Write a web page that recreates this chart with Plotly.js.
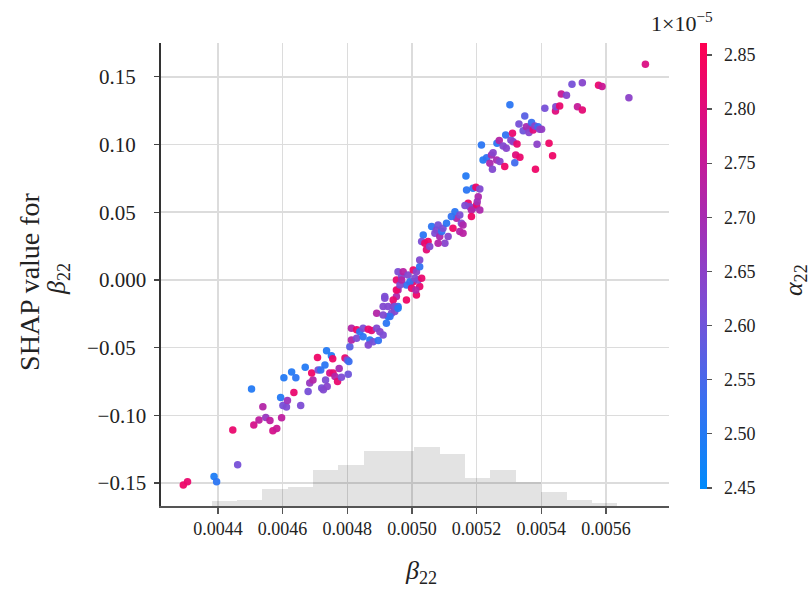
<!DOCTYPE html>
<html>
<head>
<meta charset="utf-8">
<script src="https://cdn.plot.ly/plotly-3.0.1.min.js"></script>
<style>html,body{margin:0;padding:0;background:#fff;}#chart{width:812px;height:590px;}</style>
</head>
<body>
<div id="chart"></div>
<script>
// beta_22 feature values
const beta22 = [
0.004293,0.004306,0.004388,0.004396,0.004461,0.004446,0.004504,0.004511,0.004527,0.004539,
0.004548,0.004561,0.004570,0.004582,0.004597,0.004594,0.004601,0.004612,0.004615,0.004604,
0.004628,0.004641,0.004635,0.004656,0.004670,0.004679,0.004684,0.004694,0.004690,0.004708,
0.004710,0.004718,0.004721,0.004731,0.004736,0.004751,0.004755,0.004746,0.004756,0.004733,
0.004726,0.004738,0.004762,0.004770,0.004775,0.004782,0.004793,0.004800,0.004805,0.004803,
0.004808,0.004813,0.004829,0.004839,0.004849,0.004865,0.004875,0.004891,0.004901,0.004813,
0.004829,0.004849,0.004870,0.004865,0.004880,0.004896,0.004911,0.004891,0.004911,0.004916,
0.004926,0.004937,0.004942,0.004947,0.004957,0.004952,0.004957,0.004983,0.004952,0.004968,
0.004983,0.005004,0.005014,0.005024,0.004916,0.004926,0.004942,0.004947,0.004957,0.004932,
0.004911,0.004921,0.004952,0.004963,0.004968,0.004957,0.004973,0.004988,0.004994,0.004999,
0.005004,0.005009,0.005014,0.005019,0.005024,0.005030,0.005012,0.005024,0.005035,0.005030,
0.005040,0.005050,0.005045,0.005055,0.005061,0.005071,0.005076,0.005081,0.005086,0.005092,
0.005096,0.005107,0.005112,0.005102,0.005081,0.005127,0.005138,0.005133,0.005122,0.005148,
0.005153,0.005158,0.005148,0.005158,0.005174,0.005179,0.005189,0.005200,0.005184,0.005210,
0.005184,0.005164,0.005169,0.005167,0.005189,0.005198,0.005210,0.005205,0.005202,0.005215,
0.005220,0.005231,0.005241,0.005246,0.005251,0.005249,0.005262,0.005272,0.005263,0.005270,
0.005282,0.005292,0.005287,0.005290,0.005303,0.005306,0.005311,0.005313,0.005325,0.005318,
0.005321,0.005334,0.005331,0.005344,0.005349,0.005354,0.005364,0.005362,0.005370,0.005375,
0.005380,0.005390,0.005395,0.005401,0.005387,0.005382,0.005424,0.005435,0.005411,0.005444,
0.005445,0.005457,0.005462,0.005478,0.005495,0.005512,0.005527,0.005527,0.005577,0.005588,
0.005671,0.005722
];
// SHAP values for beta_22
const shapValues = [
-0.1514,-0.1490,-0.1453,-0.1490,-0.1366,-0.1108,-0.0805,-0.1071,-0.1034,-0.0936,
-0.1017,-0.1039,-0.1115,-0.1098,-0.1019,-0.0869,-0.0928,-0.0938,-0.0891,-0.0722,
-0.0680,-0.0722,-0.0832,-0.0928,-0.0645,-0.0825,-0.0761,-0.0739,-0.0687,-0.0574,
-0.0665,-0.0665,-0.0798,-0.0628,-0.0524,-0.0561,-0.0583,-0.0687,-0.0687,-0.0739,
-0.0812,-0.0788,-0.0714,-0.0751,-0.0655,-0.0719,-0.0576,-0.0591,-0.0603,-0.0696,
-0.0493,-0.0357,-0.0369,-0.0382,-0.0357,-0.0364,-0.0374,-0.0357,-0.0382,-0.0443,
-0.0431,-0.0419,-0.0443,-0.0480,-0.0456,-0.0448,-0.0406,-0.0246,-0.0197,-0.0123,
-0.0271,-0.0246,-0.0197,-0.0234,-0.0197,-0.0123,-0.0074,-0.0148,0.0000,0.0024,
-0.0037,-0.0013,-0.0111,-0.0049,-0.0135,-0.0197,-0.0148,-0.0197,-0.0209,-0.0271,
-0.0259,-0.0320,-0.0074,-0.0037,0.0000,0.0061,0.0061,0.0037,-0.0013,-0.0061,
0.0074,0.0013,0.0061,0.0000,0.0098,0.0013,-0.0074,0.0148,0.0332,0.0283,
0.0271,0.0283,0.0222,0.0246,0.0394,0.0345,0.0369,0.0406,0.0320,0.0357,
0.0382,0.0419,0.0320,0.0271,0.0271,0.0382,0.0456,0.0504,0.0468,0.0480,
0.0419,0.0406,0.0357,0.0345,0.0566,0.0541,0.0530,0.0554,0.0517,0.0517,
0.0468,0.0549,0.0665,0.0768,0.0677,0.0685,0.0672,0.0615,0.0578,0.0997,
0.0886,0.0903,0.0862,0.0923,0.0940,0.0818,0.0886,0.0874,0.1010,0.1029,
0.0990,0.0973,0.0837,0.1071,0.1293,0.1034,0.1084,0.1021,0.1004,0.0866,
0.0923,0.0906,0.1152,0.1101,0.1211,0.1132,0.1120,0.1088,0.1162,0.1108,
0.1137,0.1132,0.1113,0.1113,0.1002,0.0818,0.1010,0.0918,0.1268,0.1248,
0.1280,0.1285,0.1374,0.1364,0.1445,0.1280,0.1256,0.1457,0.1438,0.1428,
0.1346,0.1593
];
// alpha_22 values (x 1e-5) used for colouring
const alpha22 = [
2.83,2.82,2.49,2.51,2.61,2.82,2.50,2.78,2.74,2.72,
2.67,2.74,2.78,2.76,2.74,2.50,2.61,2.62,2.68,2.50,
2.50,2.51,2.82,2.62,2.50,2.61,2.67,2.72,2.83,2.83,
2.62,2.52,2.61,2.51,2.50,2.50,2.83,2.78,2.82,2.62,
2.63,2.64,2.72,2.82,2.70,2.62,2.82,2.62,2.53,2.60,
2.57,2.72,2.83,2.51,2.62,2.82,2.81,2.63,2.64,2.72,
2.62,2.51,2.50,2.63,2.61,2.52,2.62,2.72,2.63,2.62,
2.51,2.62,2.72,2.63,2.51,2.71,2.72,2.83,2.82,2.62,
2.52,2.82,2.83,2.82,2.62,2.63,2.82,2.61,2.50,2.52,
2.63,2.51,2.83,2.63,2.72,2.62,2.73,2.63,2.52,2.82,
2.83,2.62,2.64,2.63,2.52,2.82,2.72,2.63,2.51,2.62,
2.82,2.83,2.81,2.63,2.51,2.62,2.63,2.61,2.71,2.52,
2.62,2.51,2.64,2.64,2.72,2.83,2.72,2.51,2.52,2.62,
2.64,2.71,2.72,2.73,2.82,2.63,2.64,2.82,2.72,2.71,
2.83,2.62,2.51,2.50,2.51,2.83,2.63,2.71,2.69,2.51,
2.50,2.52,2.71,2.70,2.64,2.63,2.70,2.64,2.51,2.72,
2.63,2.64,2.83,2.52,2.51,2.62,2.82,2.65,2.82,2.54,
2.80,2.82,2.61,2.60,2.57,2.70,2.69,2.64,2.53,2.80,
2.64,2.53,2.64,2.66,2.65,2.83,2.83,2.83,2.61,2.80,
2.63,2.82,2.76,2.64,2.61,2.75,2.81,2.64,2.82,2.76,
2.65,2.79
];
// histogram of beta_22 (bin start, bin width, counts)
const histBinStart = 0.0043805;
const histBinWidth = 0.0000784;
const histCounts = [3,4,11,12,23,26,35,35,37,33,18,23,15,9,4,2];
const histCenters = histCounts.map((c,i)=>histBinStart + histBinWidth*(i+0.5));

const xTickVals = [0.0044,0.0046,0.0048,0.0050,0.0052,0.0054,0.0056];
const xTickText = ["0.0044","0.0046","0.0048","0.0050","0.0052","0.0054","0.0056"];
const yTickVals = [-0.15,-0.10,-0.05,0,0.05,0.10,0.15];
const yTickText = ["\u22120.15","\u22120.10","\u22120.05\u2007","0.000","0.05\u2007","0.10\u2007","0.15\u2007"];
const cTickVals = [2.45,2.50,2.55,2.60,2.65,2.70,2.75,2.80,2.85];
const cTickText = cTickVals.map(v=>"\u2007"+v.toFixed(2));

const serif = "Liberation Serif, Times New Roman, serif";

const shapRedBlue = [
 [0.0,'#008bfb'],[0.2,'#3a6ff0'],[0.4,'#7a4fd6'],[0.5,'#8f3fc6'],
 [0.6,'#a52db3'],[0.8,'#d4118b'],[1.0,'#ff0051']
];

const traces = [
 {
  type:'bar', x:histCenters, y:histCounts, width:histBinWidth,
  xaxis:'x', yaxis:'y',
  marker:{color:'rgba(0,0,0,0.11)', line:{width:0}},
  hoverinfo:'skip', showlegend:false
 },
 {
  type:'scatter', mode:'markers', x:beta22, y:shapValues,
  xaxis:'x', yaxis:'y2',
  marker:{
   size:7.5, color:alpha22, colorscale:shapRedBlue, cmin:2.449, cmax:2.861,
   opacity:0.95, line:{width:0},
   colorbar:{
    x:1.061, xanchor:'left', y:1, yanchor:'top', len:0.9633, lenmode:'fraction',
    thickness:7, outlinewidth:0, xpad:0, ypad:0,
    ticks:'outside', ticklen:5, tickwidth:1.2, tickcolor:'#555',
    tickvals:cTickVals, ticktext:cTickText,
    tickfont:{family:serif, size:18, color:'#222'}
   }
  },
  showlegend:false
 }
];

const layout = {
 width:812, height:590,
 margin:{l:161, r:143, t:43, b:84},
 paper_bgcolor:'#fff', plot_bgcolor:'#fff',
 bargap:0,
 xaxis:{
  range:[0.004224,0.005795], tickvals:xTickVals, ticktext:xTickText,
  showgrid:true, gridcolor:'#dcdcdc', gridwidth:1.5, zeroline:false,
  showline:true, linecolor:'#555', linewidth:1.6,
  ticks:'outside', ticklen:6, tickwidth:1.2, tickcolor:'#555',
  tickfont:{family:serif, size:18, color:'#222'}
 },
 yaxis:{
  range:[0,292.5], showgrid:false, zeroline:false, showticklabels:false,
  ticks:'', showline:false, fixedrange:true
 },
 yaxis2:{
  overlaying:'y', side:'left',
  range:[-0.167,0.175], tickvals:yTickVals, ticktext:yTickText,
  showgrid:true, gridcolor:'#dcdcdc', gridwidth:1.5, zeroline:false,
  showline:true, linecolor:'#333', linewidth:1.6,
  ticks:'outside', ticklen:5, tickwidth:1.2, tickcolor:'#444',
  ticklabelstandoff:4,
  tickfont:{family:serif, size:21, color:'#222'}
 },
 annotations:[
  {xref:'paper', yref:'paper', x:-0.258, y:0.486, text:'SHAP value for', textangle:-90,
   showarrow:false, xanchor:'center', yanchor:'middle', font:{family:serif, size:28, color:'#222'}},
  {xref:'paper', yref:'paper', x:-0.203, y:0.49, text:'<i>β</i><sub>22</sub>', textangle:-90,
   showarrow:false, xanchor:'center', yanchor:'middle', font:{family:serif, size:26, color:'#222'}},
  {xref:'paper', yref:'paper', x:0.512, y:-0.142, text:'<i>β</i><sub>22</sub>',
   showarrow:false, xanchor:'center', yanchor:'middle', font:{family:serif, size:26, color:'#222'}},
  {xref:'paper', yref:'paper', x:1.248, y:0.488, text:'<i>α</i><sub>22</sub>', textangle:-90,
   showarrow:false, xanchor:'center', yanchor:'middle', font:{family:serif, size:26, color:'#222'}},
  {xref:'paper', yref:'paper', x:1.0256, y:1.045, text:'1×10<sup>−5</sup>',
   showarrow:false, xanchor:'center', yanchor:'middle', font:{family:serif, size:22, color:'#222'}}
 ]
};

Plotly.newPlot('chart', traces, layout, {displayModeBar:false, staticPlot:true});
</script>
</body>
</html>
